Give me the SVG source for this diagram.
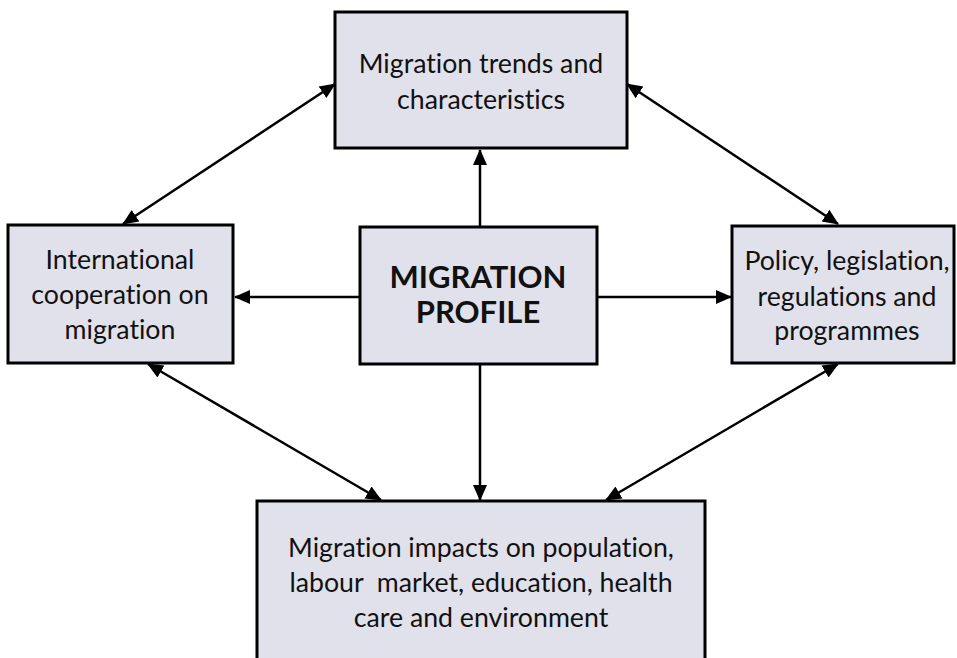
<svg xmlns="http://www.w3.org/2000/svg" width="957" height="658" viewBox="0 0 957 658">
<style>
.box{fill:#e1e1eb;stroke:#000;stroke-width:3}
.t{font-family:Lato,"Open Sans","Liberation Sans",sans-serif;font-size:26.7px;fill:#111;text-anchor:middle;font-variant-ligatures:none}
.b{font-weight:bold;font-size:31px}
.c{stroke:#000;stroke-width:2.5;fill:none;marker-end:url(#ah)}
.d{marker-start:url(#ahs)}
</style>
<defs>
<marker id="ah" markerUnits="userSpaceOnUse" markerWidth="16" markerHeight="16" refX="15" refY="8" orient="auto"><path d="M0,1 L16,8 L0,15 z" fill="#000"/></marker>
<marker id="ahs" markerUnits="userSpaceOnUse" markerWidth="16" markerHeight="16" refX="1" refY="8" orient="auto"><path d="M16,1 L0,8 L16,15 z" fill="#000"/></marker>
</defs>
<rect width="957" height="658" fill="#fff"/>
<g id="connectors">
<line class="c d" x1="123" y1="224" x2="335" y2="84"/>
<line class="c d" x1="627" y1="84" x2="838" y2="224"/>
<line class="c" x1="480" y1="227" x2="480" y2="150"/>
<line class="c" x1="360" y1="297" x2="235" y2="297"/>
<line class="c" x1="597" y1="297" x2="731" y2="297"/>
<line class="c" x1="480" y1="364" x2="480" y2="500"/>
<line class="c d" x1="148" y1="364" x2="381" y2="500"/>
<line class="c d" x1="838" y1="364" x2="606" y2="500"/>
</g>
<g id="trends">
<rect class="box" x="335" y="12" width="292" height="136"/>
<text class="t" x="481" y="73">Migration trends and</text>
<text class="t" x="481" y="109">characteristics</text>
</g>
<g id="intl">
<rect class="box" x="8" y="225" width="225" height="138"/>
<text class="t" x="120" y="269">International</text>
<text class="t" x="120" y="304">cooperation on</text>
<text class="t" x="120" y="339">migration</text>
</g>
<g id="profile">
<rect class="box" x="360" y="227" width="237" height="137"/>
<text class="t b" x="478" y="288">MIGRATION</text>
<text class="t b" x="478" y="323">PROFILE</text>
</g>
<g id="policy">
<rect class="box" x="732" y="226" width="222" height="137"/>
<text class="t" x="847" y="270">Policy, legislation,</text>
<text class="t" x="847" y="306">regulations and</text>
<text class="t" x="847" y="340">programmes</text>
</g>
<g id="impacts">
<rect class="box" x="257" y="501" width="448" height="170"/>
<text class="t" x="481" y="557">Migration impacts on population,</text>
<text class="t" x="481" y="592" xml:space="preserve">labour  market, education, health</text>
<text class="t" x="481" y="627">care and environment</text>
</g>
</svg>
